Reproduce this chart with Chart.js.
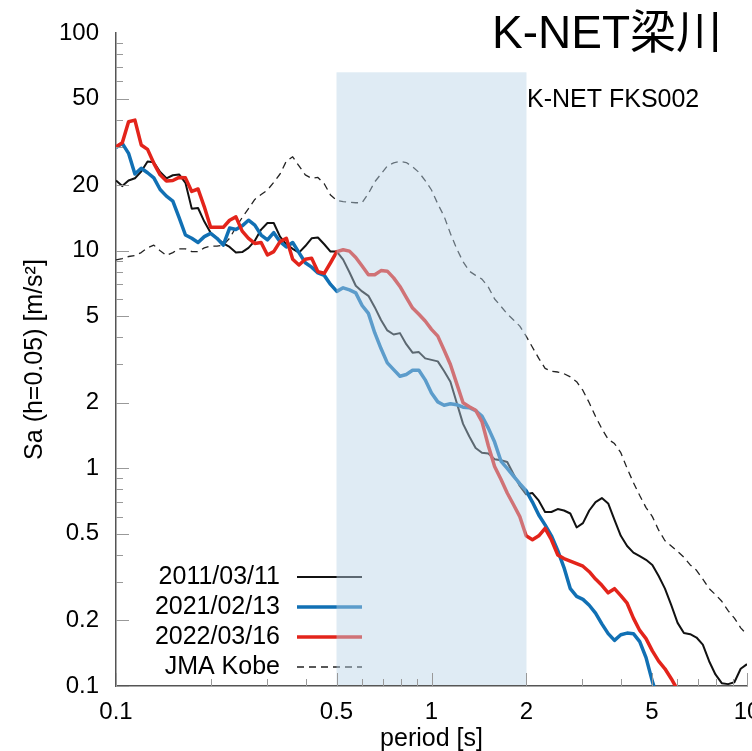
<!DOCTYPE html>
<html>
<head>
<meta charset="utf-8">
<script src="https://cdn.jsdelivr.net/npm/chart.js@4.4.1/dist/chart.umd.min.js"></script>
<style>
  html, body { margin: 0; padding: 0; background: #fff; overflow: hidden; }
</style>
</head>
<body>
<canvas id="spectrum" width="752" height="751"></canvas>
<script>
const periods = [
  0.1, 0.1047, 0.1096, 0.1148, 0.1202, 0.1259, 0.1318, 0.138, 0.1445, 0.1514,
  0.1585, 0.166, 0.1738, 0.182, 0.1905, 0.1995, 0.2089, 0.2188, 0.2291, 0.2399,
  0.2512, 0.263, 0.2754, 0.2884, 0.302, 0.3162, 0.3311, 0.3467, 0.3631, 0.3802,
  0.3981, 0.4169, 0.4365, 0.4571, 0.4786, 0.5012, 0.5248, 0.5495, 0.5754, 0.6026,
  0.631, 0.6607, 0.6918, 0.7244, 0.7586, 0.7943, 0.8318, 0.871, 0.912, 0.955,
  1.0, 1.047, 1.096, 1.148, 1.202, 1.259, 1.318, 1.38, 1.445, 1.514,
  1.585, 1.66, 1.738, 1.82, 1.905, 1.995, 2.089, 2.188, 2.291, 2.399,
  2.512, 2.63, 2.754, 2.884, 3.02, 3.162, 3.311, 3.467, 3.631, 3.802,
  3.981, 4.169, 4.365, 4.571, 4.786, 5.012, 5.248, 5.495, 5.754, 6.026,
  6.31, 6.607, 6.918, 7.244, 7.586, 7.943, 8.318, 8.71, 9.12, 9.55,
  10.0
];

const sa2011 = [
  21.0, 19.8, 21.0, 21.5, 23.1, 25.7, 25.5, 23.0, 21.5, 22.2,
  22.4, 20.5, 15.6, 15.7, 13.6, 12.1, 11.4, 10.8, 10.4, 9.8,
  9.85, 10.3, 11.1, 12.5, 13.4, 13.4, 11.6, 10.7, 10.2, 9.8,
  10.5, 11.4, 11.5, 10.7, 9.9, 9.9, 9.1, 7.96, 6.9, 6.5,
  6.2, 5.5, 4.8, 4.3, 4.12, 4.18, 3.72, 3.4, 3.42, 3.2,
  3.15, 3.1, 2.8, 2.5, 2.0, 1.6, 1.4, 1.24, 1.18, 1.17,
  1.1, 1.09, 1.07, 0.94, 0.83, 0.76, 0.77, 0.71, 0.63, 0.63,
  0.65, 0.64, 0.62, 0.535, 0.56, 0.64, 0.70, 0.73, 0.69, 0.58,
  0.49, 0.44, 0.41, 0.395, 0.38, 0.36, 0.32, 0.28, 0.235, 0.195,
  0.175, 0.173, 0.167, 0.155, 0.13, 0.113, 0.103, 0.102, 0.104, 0.12,
  0.126
];

const sa2021 = [
  29.8, 31.1, 28.0, 22.5, 23.9, 22.8, 21.6, 19.1, 17.8, 16.9,
  14.2, 11.8, 11.4, 10.9, 11.6, 12.0, 11.4, 10.6, 12.7, 12.5,
  13.0, 13.8, 13.1, 11.8, 11.2, 12.1, 11.0, 10.4, 10.9, 9.8,
  8.8, 8.4, 7.9, 7.7, 7.0, 6.5, 6.75, 6.6, 6.4, 5.6,
  5.15, 4.2, 3.55, 3.05, 2.84, 2.65, 2.7, 2.82, 2.82, 2.55,
  2.22, 2.02, 1.95, 1.98, 1.96, 1.91, 1.9, 1.84, 1.74, 1.53,
  1.32, 1.08, 1.0, 0.92, 0.85, 0.79, 0.70, 0.61, 0.55, 0.49,
  0.42, 0.35, 0.28, 0.258, 0.25, 0.235, 0.216, 0.193, 0.174, 0.162,
  0.172, 0.175, 0.174, 0.16, 0.135, 0.105, 0.085, null, null, null,
  null, null, null, null, null, null, null, null, null, null,
  null
];

const sa2022 = [
  30.0, 31.3, 39.1, 39.8, 30.6, 29.2, 25.2, 22.3, 20.9, 21.0,
  21.7, 21.6, 18.7, 19.2, 15.9, 12.8, 12.8, 12.8, 13.8, 14.3,
  12.3, 11.4, 10.8, 10.9, 9.55, 9.9, 11.0, 11.4, 9.14, 8.6,
  9.14, 9.24, 8.0, 7.87, 8.8, 9.9, 10.1, 9.95, 9.3, 8.5,
  7.75, 7.75, 8.1, 8.05, 7.5, 6.85, 6.1, 5.45, 5.1, 4.75,
  4.35, 4.05, 3.5, 3.0, 2.45, 2.0, 1.92, 1.85, 1.64, 1.27,
  1.02, 0.89, 0.77, 0.68, 0.60, 0.49, 0.47, 0.49, 0.53, 0.47,
  0.40, 0.385, 0.375, 0.365, 0.355, 0.335, 0.31, 0.29, 0.268, 0.28,
  0.26, 0.24, 0.205, 0.18, 0.165, 0.145, 0.13, 0.12, 0.108, 0.096,
  null, null, null, null, null, null, null, null, null, null,
  null
];

const saKobe = [
  9.07, 9.2, 9.4, 9.5, 9.8, 10.3, 10.6, 10.0, 9.5, 9.8,
  10.2, 10.2, 9.9, 9.9, 10.3, 10.5, 10.5, 10.6, 11.4, 12.8,
  14.2, 15.6, 17.2, 18.1, 19.0, 20.6, 22.5, 25.8, 27.0, 24.5,
  22.3, 21.5, 21.7, 20.3, 18.0, 17.0, 16.8, 16.7, 16.6, 16.6,
  18.3, 20.7, 22.5, 24.5, 25.3, 25.7, 25.4, 24.3, 22.9, 21.0,
  19.0, 16.4, 14.4, 12.0, 10.2, 8.9, 8.05, 7.7, 7.4, 6.8,
  6.0, 5.55, 5.12, 4.8, 4.5, 4.05, 3.6, 3.2, 2.88, 2.79,
  2.77, 2.72, 2.63, 2.5, 2.28, 2.0, 1.73, 1.52, 1.36, 1.3,
  1.18, 1.0, 0.86, 0.75, 0.66, 0.6, 0.52, 0.465, 0.44, 0.415,
  0.39, 0.36, 0.34, 0.31, 0.28, 0.263, 0.245, 0.222, 0.205, 0.185,
  0.172
];

const seriesNames = ["2011/03/11", "2021/02/13", "2022/03/16", "JMA Kobe"];
const xTickValues = [0.1, 0.5, 1, 2, 5, 10];
const yTickValues = [0.1, 0.2, 0.5, 1, 2, 5, 10, 20, 50, 100];
const bandStart = 0.5;
const bandEnd = 2;
const bandTop = 66;

const fontFamily = "'Liberation Sans', Arial, Helvetica, sans-serif";

function toPoints(values) {
  return periods.map((p, i) => ({ x: p, y: values[i] }));
}

function isMajor(v, majors) {
  return majors.some(m => Math.abs(m - v) / m < 1e-6);
}

// legend, highlighted period band and inward tick marks
const decorations = {
  id: "decorations",
  afterDatasetsDraw(chart) {
    const { ctx, chartArea, scales: { x, y } } = chart;
    ctx.save();

    ctx.font = `25px ${fontFamily}`;
    ctx.textAlign = "right";
    ctx.textBaseline = "middle";
    chart.data.datasets.forEach((ds, i) => {
      const rowY = 577 + i * 30;
      ctx.fillStyle = "#000";
      ctx.fillText(ds.label, 280, rowY);
      ctx.strokeStyle = ds.borderColor;
      ctx.lineWidth = ds.borderWidth;
      ctx.setLineDash(ds.borderDash || []);
      ctx.beginPath();
      ctx.moveTo(297, rowY);
      ctx.lineTo(362, rowY);
      ctx.stroke();
    });
    ctx.setLineDash([]);

    const left = x.getPixelForValue(bandStart);
    const right = x.getPixelForValue(bandEnd);
    const top = y.getPixelForValue(bandTop);
    ctx.fillStyle = "rgba(184,210,231,0.45)";
    ctx.fillRect(left, top, right - left, chartArea.bottom - 1 - top);

    ctx.strokeStyle = "#999";
    ctx.lineWidth = 1;
    [0.1, 1, 10].forEach(dec => {
      for (let m = 1; m <= 9; m++) {
        const v = m * dec;
        if (v > 100.001) continue;
        const py = Math.round(y.getPixelForValue(v)) + 0.5;
        const len = isMajor(v, yTickValues) ? 13 : 7;
        ctx.beginPath();
        ctx.moveTo(chartArea.left, py);
        ctx.lineTo(chartArea.left + len, py);
        ctx.stroke();
      }
    });
    [0.1, 1].forEach(dec => {
      for (let m = 1; m <= 10; m++) {
        const v = m * dec;
        const px = Math.round(x.getPixelForValue(v)) + 0.5;
        const len = isMajor(v, xTickValues) ? 13 : 7;
        ctx.beginPath();
        ctx.moveTo(px, chartArea.bottom);
        ctx.lineTo(px, chartArea.bottom - len);
        ctx.stroke();
      }
    });
    ctx.restore();
  },
  afterDraw(chart) {
    const { ctx } = chart;
    ctx.save();
    ctx.fillStyle = "#000";
    ctx.textAlign = "right";
    ctx.textBaseline = "alphabetic";
    ctx.font = `46px 'Liberation Sans', 'Noto Sans CJK JP', sans-serif`;
    ctx.fillText("K-NET梁川", 722, 48);
    ctx.textAlign = "left";
    ctx.font = `25px ${fontFamily}`;
    ctx.fillText("K-NET FKS002", 527, 107);
    ctx.restore();
  }
};

new Chart(document.getElementById("spectrum"), {
  type: "line",
  data: {
    datasets: [
      { label: seriesNames[0], data: toPoints(sa2011), borderColor: "#111111", borderWidth: 2, order: 3 },
      { label: seriesNames[1], data: toPoints(sa2021), borderColor: "#1170b4", borderWidth: 3.5, order: 2 },
      { label: seriesNames[2], data: toPoints(sa2022), borderColor: "#e3241b", borderWidth: 3.5, order: 1 },
      { label: seriesNames[3], data: toPoints(saKobe), borderColor: "#222222", borderWidth: 1.3, borderDash: [7, 5], order: 4 }
    ]
  },
  options: {
    responsive: false,
    animation: false,
    events: [],
    layout: { padding: { top: 33, right: 5, bottom: 0, left: 0 } },
    elements: {
      point: { radius: 0 },
      line: { tension: 0, fill: false, borderJoinStyle: "round" }
    },
    plugins: {
      legend: { display: false },
      tooltip: { enabled: false }
    },
    scales: {
      x: {
        type: "logarithmic",
        min: 0.1,
        max: 10,
        grid: { display: false, drawTicks: false },
        border: { display: true, color: "#555", width: 1.5 },
        ticks: {
          color: "#000",
          padding: 12,
          maxRotation: 0,
          autoSkip: false,
          font: { family: fontFamily, size: 24 },
          callback: v => String(v)
        },
        afterBuildTicks: s => { s.ticks = xTickValues.map(v => ({ value: v })); },
        afterFit: s => { s.height = 65; s.paddingLeft = 0; s.paddingRight = 0; },
        title: {
          display: true,
          text: "period [s]",
          color: "#000",
          font: { family: fontFamily, size: 25 },
          padding: { top: 0, bottom: -3 }
        }
      },
      y: {
        type: "logarithmic",
        min: 0.1,
        max: 100,
        grid: { display: false, drawTicks: false },
        border: { display: true, color: "#555", width: 1.5 },
        ticks: {
          color: "#000",
          padding: 17,
          autoSkip: false,
          font: { family: fontFamily, size: 24 },
          callback: v => String(v)
        },
        afterBuildTicks: s => { s.ticks = yTickValues.map(v => ({ value: v })); },
        afterFit: s => { s.width = 116; s.paddingTop = 0; s.paddingBottom = 0; },
        title: {
          display: true,
          text: "Sa (h=0.05) [m/s²]",
          color: "#000",
          font: { family: fontFamily, size: 25 },
          padding: { top: 20, bottom: 0 }
        }
      }
    }
  },
  plugins: [decorations]
});
</script>
</body>
</html>
